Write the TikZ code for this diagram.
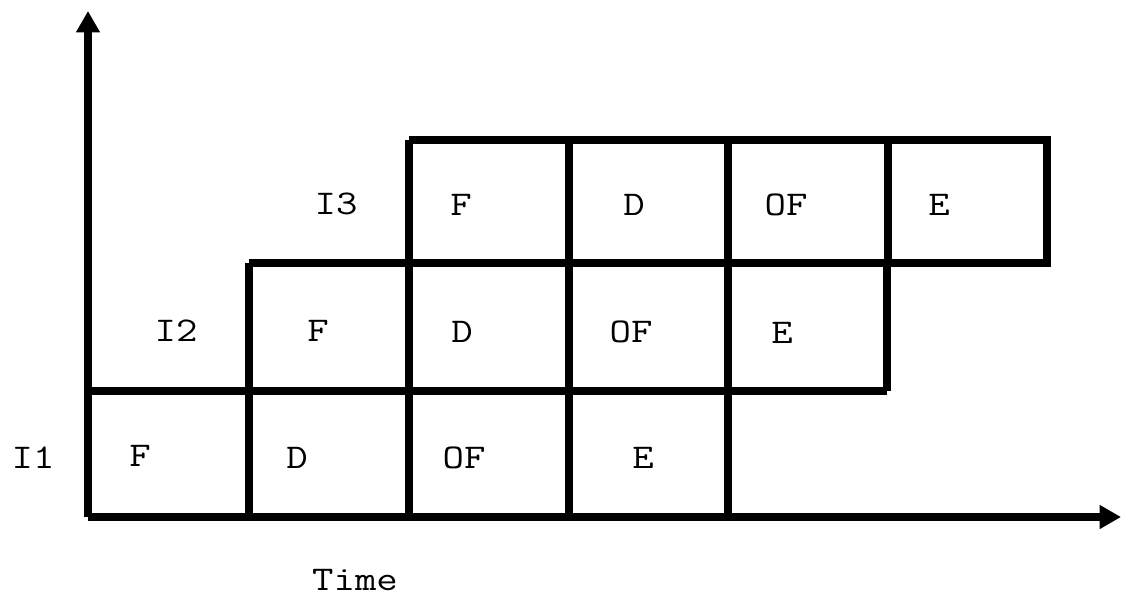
\documentclass[tikz,border=0pt]{standalone}
\usepackage{fontspec}
\usepackage{graphicx}
\usetikzlibrary{arrows.meta}
\newcommand\widetxt[1]{\scalebox{1.2}[1]{#1}}
\tikzset{
  grid/.style={line width=5.6pt, line join=miter},
  axis/.style={line width=5.6pt, -{Triangle[length=16pt,width=17pt]}},
  lbl/.style={font=\ttfamily\fontsize{26}{26}\selectfont, inner sep=0pt, anchor=center}
}
\begin{document}
\begin{tikzpicture}[x=0.75pt,y=-0.75pt]
\useasboundingbox (0,0) rectangle (1123,598);
% axes
\coordinate (O) at (88,517);
\coordinate (ytip) at (88,11);
\coordinate (xtip) at (1121,517);
\draw[axis] (O) -- (ytip);
\draw[axis] (O) -- (xtip);
% row 1 (I1)
\draw[grid] (88,391) -- (887,391);
\draw[grid] (249,517) -- (249,263);
\draw[grid] (409,517) -- (409,140);
\draw[grid] (569,517) -- (569,140);
\draw[grid] (728,517) -- (728,140);
% rows 2 and 3
\draw[grid] (249,263) -- (1047,263) -- (1047,140) -- (409,140);
\draw[grid] (887,391) -- (887,263);
\draw[grid] (888,263) -- (888,140);
% labels row 1
\node[lbl] (i1) at (33,458) {\widetxt{I1}};
\node[lbl] (a1) at (140,456) {\widetxt{F}};
\node[lbl] (a2) at (297,458) {\widetxt{D}};
\node[lbl] (a3) at (464,458) {\widetxt{OF}};
\node[lbl] (a4) at (643,458) {\widetxt{E}};
% labels row 2
\node[lbl] (i2) at (176,331) {\widetxt{I2}};
\node[lbl] (b1) at (318,331) {\widetxt{F}};
\node[lbl] (b2) at (462,332) {\widetxt{D}};
\node[lbl] (b3) at (631,332) {\widetxt{OF}};
\node[lbl] (b4) at (782,333) {\widetxt{E}};
% labels row 3
\node[lbl] (i3) at (336,204) {\widetxt{I3}};
\node[lbl] (c1) at (461,205) {\widetxt{F}};
\node[lbl] (c2) at (634,205) {\widetxt{D}};
\node[lbl] (c3) at (786,205) {\widetxt{OF}};
\node[lbl] (c4) at (939,205) {\widetxt{E}};
% time
\node[lbl] (time) at (355,580) {\widetxt{Time}};
\end{tikzpicture}
\end{document}
